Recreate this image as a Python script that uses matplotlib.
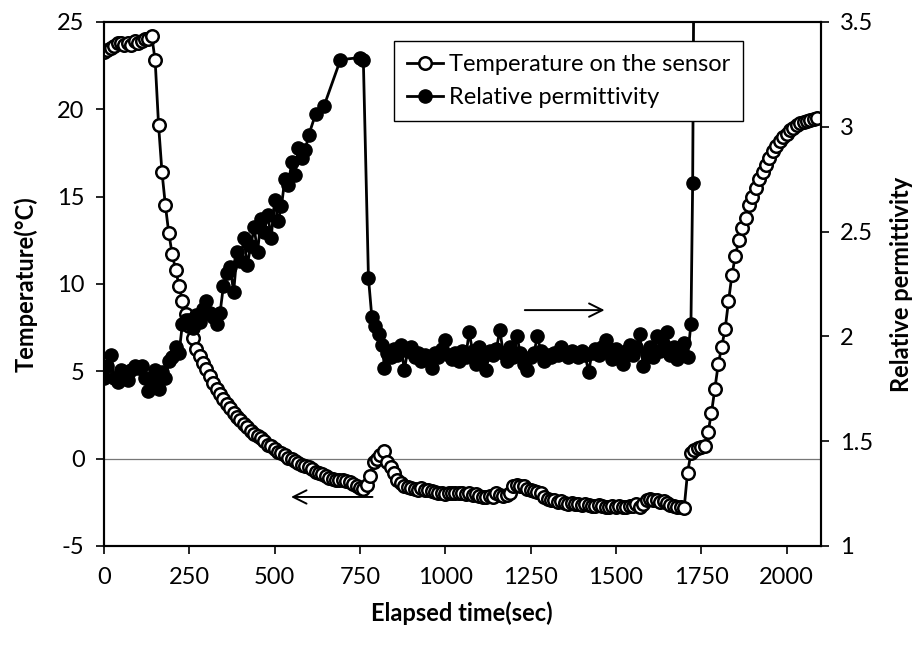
import matplotlib
matplotlib.use("Agg")
import matplotlib.pyplot as plt
import numpy as np

plt.rcParams['font.family'] = ['Lato', 'DejaVu Sans']
plt.rcParams['axes.unicode_minus'] = False

# temperature on the sensor, sampled every 10 s
temp_time = np.arange(0, 2100, 10)
temp_vals = [
    23.3, 23.4, 23.5, 23.6, 23.8, 23.8, 23.7, 23.8, 23.7, 23.9,
    23.8, 23.9, 24.0, 24.0, 24.2, 22.8, 19.1, 16.4, 14.5, 12.9,
    11.7, 10.8, 9.9, 9.0, 8.3, 7.6, 6.9, 6.3, 5.9, 5.5,
    5.1, 4.7, 4.3, 4.0, 3.7, 3.4, 3.1, 2.9, 2.6, 2.4,
    2.2, 2.0, 1.8, 1.6, 1.4, 1.3, 1.15, 1.0, 0.8, 0.7,
    0.55, 0.4, 0.3, 0.2, 0.05, -0.05, -0.15, -0.25, -0.35, -0.45,
    -0.5, -0.6, -0.75, -0.8, -0.9, -1.0, -1.1, -1.15, -1.2, -1.25,
    -1.25, -1.3, -1.35, -1.45, -1.55, -1.7, -1.75, -1.5, -1.0, -0.2,
    0.0, 0.2, 0.45, -0.2, -0.5, -0.8, -1.2, -1.4, -1.6, -1.65,
    -1.7, -1.75, -1.8, -1.7, -1.8, -1.8, -1.85, -1.9, -1.95, -2.0,
    -2.05, -2.0, -1.95, -2.0, -1.95, -2.0, -2.05, -2.0, -2.1, -2.05,
    -2.15, -2.2, -2.2, -2.15, -2.2, -2.0, -2.1, -2.15, -2.1, -2.0,
    -1.6, -1.5, -1.55, -1.6, -1.75, -1.8, -1.85, -1.9, -2.0, -2.2,
    -2.3, -2.35, -2.4, -2.5, -2.45, -2.55, -2.6, -2.55, -2.6, -2.6,
    -2.65, -2.6, -2.65, -2.7, -2.7, -2.65, -2.7, -2.8, -2.75, -2.7,
    -2.75, -2.7, -2.75, -2.8, -2.7, -2.7, -2.6, -2.75, -2.6, -2.4,
    -2.3, -2.35, -2.4, -2.5, -2.45, -2.55, -2.65, -2.7, -2.75, -2.8,
    -2.85, -0.8, 0.3, 0.5, 0.6, 0.65, 0.7, 1.5, 2.6, 4.0,
    5.4, 6.4, 7.4, 9.0, 10.5, 11.6, 12.5, 13.2, 13.8, 14.5,
    15.0, 15.5, 16.0, 16.4, 16.8, 17.2, 17.6, 17.9, 18.2, 18.4,
    18.6, 18.8, 18.9, 19.1, 19.2, 19.3, 19.35, 19.4, 19.45, 19.5,
]

# relative permittivity
perm_time = (list(range(0, 610, 10)) + [620, 645, 693, 750, 760, 775, 785, 795, 805, 815, 822]
             + list(range(830, 1720, 10)) + [1720, 1725, 1730])
perm_vals = [
    1.80, 1.86, 1.91, 1.80, 1.78, 1.84, 1.83, 1.79, 1.84, 1.86,
    1.85, 1.86, 1.80, 1.74, 1.79, 1.84, 1.75, 1.83, 1.80, 1.88,
    1.90, 1.95, 1.92, 2.06, 2.08, 2.08, 2.04, 2.10, 2.07, 2.13,
    2.17, 2.11, 2.09, 2.06, 2.11, 2.24, 2.30, 2.33, 2.21, 2.40,
    2.36, 2.47, 2.34, 2.43, 2.52, 2.40, 2.56, 2.50, 2.58, 2.47,
    2.65, 2.55, 2.62, 2.75, 2.72, 2.83, 2.77, 2.90, 2.85, 2.89,
    2.96,
    3.06, 3.10, 3.32, 3.33, 3.32, 2.28, 2.09, 2.05, 2.01, 1.96, 1.85,
    1.92, 1.90, 1.94, 1.91, 1.96, 1.84, 1.93, 1.95, 1.90, 1.92,
    1.88, 1.91, 1.89, 1.85, 1.92, 1.90, 1.94, 1.98, 1.91, 1.89,
    1.92, 1.88, 1.93, 1.90, 2.02, 1.93, 1.87, 1.95, 1.90, 1.84,
    1.93, 1.91, 1.94, 2.03, 1.92, 1.88, 1.95, 1.90, 2.00, 1.92,
    1.87, 1.84, 1.90, 1.92, 2.00, 1.93, 1.88, 1.91, 1.90, 1.92,
    1.91, 1.95, 1.92, 1.90, 1.93, 1.92, 1.90, 1.93, 1.91, 1.83,
    1.92, 1.94, 1.91, 1.95, 1.98, 1.92, 1.89, 1.94, 1.90, 1.87,
    1.93, 1.96, 1.91, 1.95, 2.01, 1.86, 1.92, 1.95, 1.90, 2.00,
    1.93, 1.96, 2.02, 1.91, 1.95, 1.89, 1.93, 1.97, 1.90,
    2.06, 2.73, 4.20,
]

xticks = np.arange(0, 2001, 250)

fig = plt.figure(figsize=(9.2, 6.46), dpi=100)
ax = fig.add_axes([0.113, 0.155, 0.779, 0.811])
ax2 = ax.twinx()

ax.axhline(0, color='#777777', lw=0.9, zorder=1)
l1, = ax.plot(temp_time, temp_vals, '-o', color='black', mfc='white', mec='black',
              ms=9, mew=1.8, lw=2.0, zorder=3, label="Temperature on the sensor")
l2, = ax2.plot(perm_time, perm_vals, '-o', color='black', ms=9.5, lw=2.0,
               label="Relative permittivity")

ax.set_xlim(0, 2100)
ax.set_ylim(-5, 25)
ax2.set_ylim(1, 3.5)
ax.set_xticks(xticks)
ax.set_yticks(np.arange(-5, 26, 5))
ax2.set_yticks([1, 1.5, 2, 2.5, 3, 3.5])
ax2.set_yticklabels(["1", "1.5", "2", "2.5", "3", "3.5"])

for a in (ax, ax2):
    a.tick_params(direction='out', length=6, width=1.2, labelsize=17, pad=8)
    for s in a.spines.values():
        s.set_linewidth(1.5)
ax.tick_params(axis='x', pad=9)

ax.set_xlabel("Elapsed time(sec)", fontsize=17, fontweight='bold', labelpad=10)
ax.set_ylabel("Temperature(°C)", fontsize=17, fontweight='bold', labelpad=14)
ax2.set_ylabel("Relative permittivity", fontsize=17, fontweight='bold', labelpad=12)

ax.annotate("", xy=(540, -2.2), xytext=(795, -2.2),
            arrowprops=dict(arrowstyle='->', lw=1.4, color='black', mutation_scale=24))
ax2.annotate("", xy=(1475, 2.125), xytext=(1225, 2.125),
             arrowprops=dict(arrowstyle='->', lw=1.4, color='black', mutation_scale=24))

leg = ax2.legend(handles=[l1, l2], loc='upper left', bbox_to_anchor=(0.405, 0.963),
                 fontsize=17, fancybox=False, edgecolor='black', framealpha=1,
                 handlelength=1.5, handletextpad=0.25, borderpad=0.55, labelspacing=0.5,
                 borderaxespad=0)
leg.get_frame().set_linewidth(1.0)

fig.savefig("out.png", dpi=100)
